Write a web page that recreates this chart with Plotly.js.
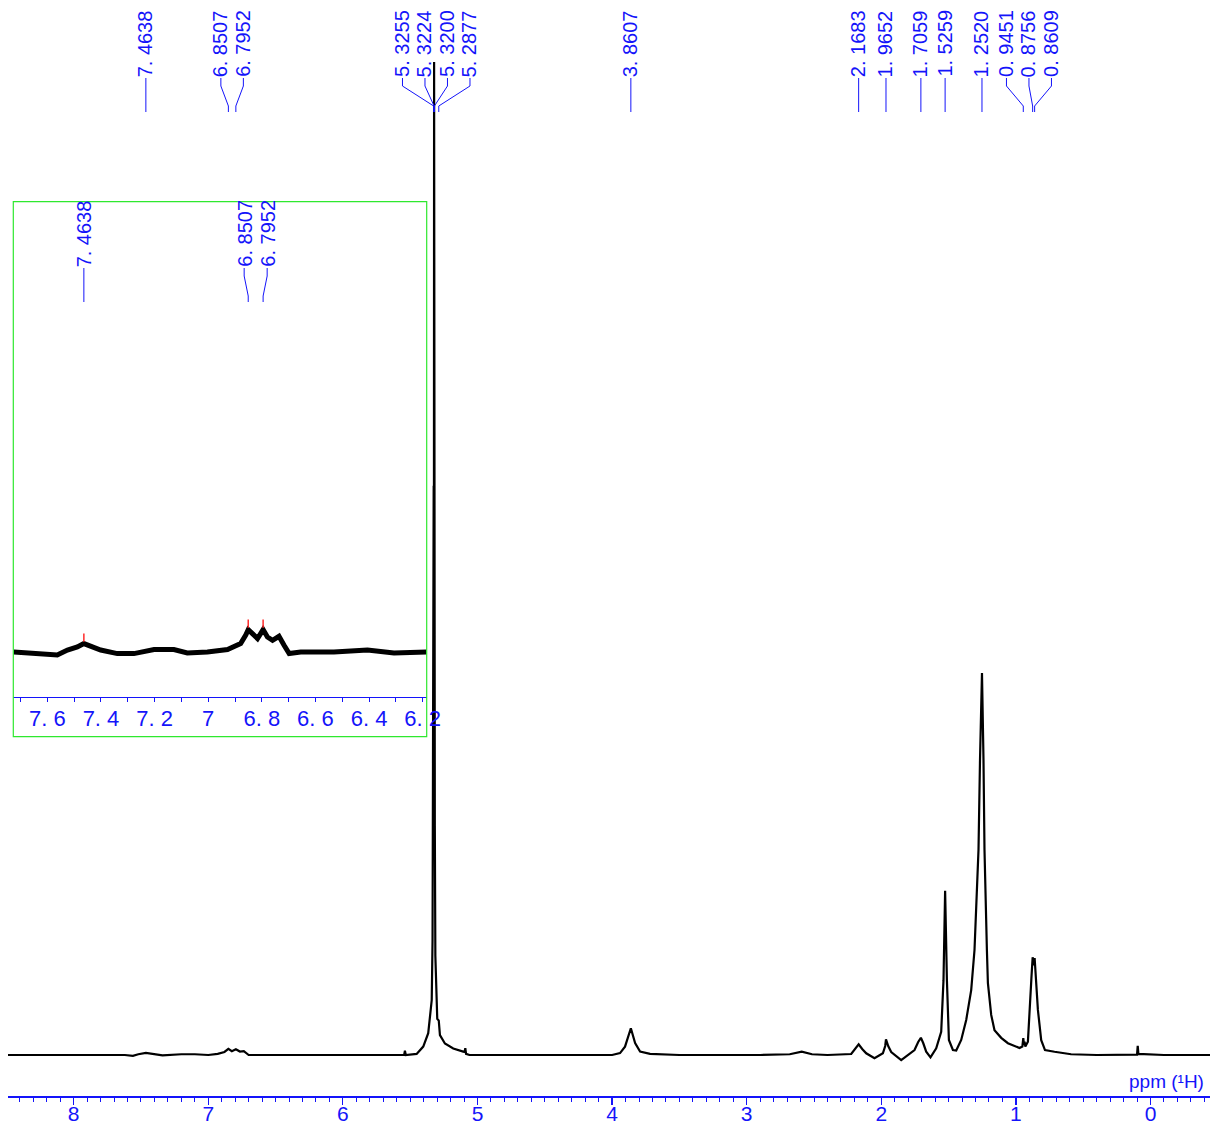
<!DOCTYPE html>
<html>
<head>
<meta charset="utf-8">
<script src="https://cdn.plot.ly/plotly-3.0.1.min.js"></script>
<style>
  html, body { margin: 0; padding: 0; background: #ffffff; }
  #chart { width: 1210px; height: 1126px; }
</style>
</head>
<body>
<div id="chart"></div>
<script>
// 1H NMR spectrum: chemical shift (ppm) and relative intensity (1.2520 ppm signal = 100)
const spectrumPpm = [
  8.49, 7.90, 7.62, 7.56, 7.52, 7.4638, 7.40, 7.34, 7.20, 7.10, 7.00, 6.93, 6.88,
  6.8507, 6.825, 6.7952, 6.765, 6.736, 6.70, 6.60, 6.40, 6.20, 6.00, 5.80, 5.60,
  5.545, 5.539, 5.533, 5.452, 5.403, 5.366, 5.348, 5.340, 5.334, 5.330,
  5.3255, 5.3238, 5.3224, 5.3212, 5.3200, 5.317, 5.313, 5.306, 5.299, 5.2877,
  5.282, 5.279, 5.242, 5.180, 5.106, 5.096, 5.0905, 5.085, 5.06, 4.80, 4.50,
  4.20, 4.00, 3.941, 3.904, 3.8607, 3.829, 3.792, 3.718, 3.50, 3.20, 2.90,
  2.68, 2.591, 2.515, 2.40, 2.2236, 2.1865, 2.1683, 2.1419, 2.1122, 2.0505,
  1.9881, 1.9710, 1.9652, 1.9487, 1.9264, 1.8522, 1.7533, 1.7259, 1.7059,
  1.6887, 1.6664, 1.6345, 1.5921, 1.5550, 1.5379, 1.5259, 1.5126, 1.4978,
  1.4680, 1.4435, 1.4064, 1.3692, 1.3321, 1.3076, 1.2875, 1.2779, 1.2667,
  1.2520, 1.2407, 1.2333, 1.2155, 1.2080, 1.1835, 1.1590, 1.1092, 1.0594,
  0.9733, 0.952, 0.9451, 0.940, 0.9355, 0.930, 0.9108, 0.8990, 0.885, 0.8756,
  0.868, 0.8609, 0.852, 0.8366, 0.8120, 0.784, 0.7132, 0.59, 0.40, 0.20,
  0.100, 0.095, 0.090, -0.10, -0.442
];
const spectrumInt = [
  0, 0, 0, -0.2, 0.2, 0.55, 0.2, -0.1, 0.2, 0.2, 0, 0.3, 0.8,
  1.6, 1.0, 1.5, 0.9, 1.0, 0, 0, 0.1, 0, 0, 0, 0,
  0, 1.1, 0, 0.3, 2.2, 5.7, 10.9, 14.4, 30, 70,
  149, 110, 260, 140, 181, 60, 26, 14, 9.5, 9.0,
  6.5, 5.2, 3.0, 1.7, 0.9, 0.8, 1.8, 0.3, 0, 0, 0,
  0, 0, 0.5, 2.2, 7.0, 3.1, 0.9, 0.3, 0, 0, 0,
  0.2, 0.9, 0.2, 0, 0.26, 2.17, 2.8, 1.57, 0.45, -0.86,
  0.45, 2.36, 4.1, 2.36, 0.79, -1.31, 1.31, 3.40, 4.53,
  3.14, 0.86, -0.60, 1.75, 6.10, 19.6, 43.0, 19.6, 3.93,
  1.31, 1.18, 3.93, 9.16, 17.0, 27.5, 45.8, 53.7, 77.2,
  100, 77.2, 53.7, 27.5, 18.8, 10.5, 6.5, 4.5, 3.1,
  1.83, 2.2, 4.4, 2.6, 3.5, 2.2, 3.5, 12.6, 20, 25.6,
  23.5, 25.4, 20, 11.8, 3.9, 1.3, 0.86, 0.2, 0, 0,
  0.1, 2.4, 0.3, 0, 0
];

// Expanded aromatic region 7.7 - 6.2 ppm (vertically magnified)
const insetPpm = [
  7.725, 7.650, 7.563, 7.525, 7.488, 7.4638, 7.432, 7.401, 7.339, 7.277,
  7.202, 7.128, 7.078, 7.003, 6.928, 6.879, 6.860, 6.8507, 6.835, 6.816,
  6.7952, 6.779, 6.760, 6.736, 6.717, 6.698, 6.655, 6.531, 6.406, 6.307, 6.185
];
const insetInt = [
  0, -1, -3, 2, 5, 8.4, 5, 2, -1.6, -1.6,
  2.4, 2.4, -1, 0, 2.4, 8.4, 17, 22.4, 18.4, 13.4,
  22.4, 15, 11.7, 15.7, 6.7, -1.6, 0, 0, 2, -1, 0
];

// Picked peaks
const peakPpm = [7.4638, 6.8507, 6.7952, 5.3255, 5.3224, 5.3200, 5.2877, 3.8607,
                 2.1683, 1.9652, 1.7059, 1.5259, 1.2520, 0.9451, 0.8756, 0.8609];
const insetPeakPpm = [7.4638, 6.8507, 6.7952];

// Tick labels
const mainTickVals = [8, 7, 6, 5, 4, 3, 2, 1, 0];
const mainTickText = ['8', '7', '6', '5', '4', '3', '2', '1', '0'];
const insetTickVals = [7.6, 7.4, 7.2, 7.0, 6.8, 6.6, 6.4, 6.2];
const insetTickText = ['7. 6', '7. 4', '7. 2', '7', '6. 8', '6. 6', '6. 4', '6. 2'];

// ---- page geometry (pixels) ----
const W = 1210, H = 1126;
const BLUE = 'rgb(20,20,250)';
const GREEN = '#2ee82e';
const NARROW = 'Liberation Sans Narrow, Liberation Sans, Arial, sans-serif';
const SANS = 'Liberation Sans, Arial, sans-serif';

const main = { left: 8, right: 1210, axisY: 1096, top: 0, range: [8.488, -0.442], yRange: [-10.73, 276.2] };
const inset = { left: 13.3, right: 426.7, axisY: 697, top: 201.7, boxBottom: 736.7, range: [7.727, 6.185], yRange: [-45, 450.3] };

const px = x => x / W;
const py = y => 1 - y / H;

function toPixel(ax, ppm) {
  return ax.left + (ax.range[0] - ppm) / (ax.range[0] - ax.range[1]) * (ax.right - ax.left);
}

// Spread crowded labels evenly around the centre of each cluster
function spreadLabels(pixels, gap) {
  const order = pixels.map((p, i) => [p, i]).sort((a, b) => a[0] - b[0]);
  const out = new Array(pixels.length);
  let group = [order[0]];
  const flush = g => {
    const c = (g[0][0] + g[g.length - 1][0]) / 2;
    const start = c - gap * (g.length - 1) / 2;
    g.forEach((e, k) => { out[e[1]] = start + k * gap; });
  };
  for (let i = 1; i < order.length; i++) {
    if (order[i][0] - order[i - 1][0] < gap) group.push(order[i]);
    else { flush(group); group = [order[i]]; }
  }
  flush(group);
  return out;
}

const fmt = v => v.toFixed(4).replace('.', '. ');

const annotations = [];
const shapes = [];

function addPeakLabels(ax, list, textBottom, gap) {
  const pk = list.map(v => toPixel(ax, v));
  const lab = spreadLabels(pk, gap);
  list.forEach((v, i) => {
    annotations.push({
      xref: 'paper', yref: 'paper', x: px(lab[i]), y: py(textBottom),
      xanchor: 'center', yanchor: 'bottom', textangle: -90, showarrow: false,
      borderpad: 0, text: fmt(v),
      font: { family: SANS, size: 20, color: BLUE }
    });
    const p = `M ${px(lab[i])},${py(textBottom)} L ${px(lab[i])},${py(textBottom + 8)} ` +
              `L ${px(pk[i])},${py(textBottom + 28)} L ${px(pk[i])},${py(textBottom + 34)}`;
    shapes.push({ type: 'path', xref: 'paper', yref: 'paper', path: p,
                  line: { color: BLUE, width: 1 } });
  });
}

addPeakLabels(main, peakPpm, 78, 22.5);
addPeakLabels(inset, insetPeakPpm, 268, 23);

// frame of the expanded view
shapes.push({ type: 'rect', xref: 'paper', yref: 'paper',
  x0: px(inset.left), x1: px(inset.right), y0: py(inset.boxBottom), y1: py(inset.top),
  line: { color: GREEN, width: 1.2 }, fillcolor: 'rgba(0,0,0,0)' });

annotations.push({ xref: 'paper', yref: 'paper', x: px(1166), y: py(1081),
  xanchor: 'center', yanchor: 'middle', showarrow: false, text: 'ppm (¹H)',
  font: { family: NARROW, size: 19, color: BLUE } });

// red pick marks above the expanded peaks
const markY = insetPeakPpm.map(v => insetInt[insetPpm.indexOf(v)] + 6);

const traces = [
  { x: spectrumPpm, y: spectrumInt, xaxis: 'x', yaxis: 'y', type: 'scatter', mode: 'lines',
    line: { color: '#000000', width: 2.2 }, hoverinfo: 'skip' },
  { x: insetPpm, y: insetInt, xaxis: 'x2', yaxis: 'y2', type: 'scatter', mode: 'lines',
    line: { color: '#000000', width: 5 }, hoverinfo: 'skip' },
  { x: insetPeakPpm, y: markY, xaxis: 'x2', yaxis: 'y2', type: 'scatter', mode: 'markers',
    marker: { symbol: 'line-ns-open', size: 6, color: '#ff2a2a', line: { color: '#ff2a2a', width: 1.5 } },
    hoverinfo: 'skip' }
];

const layout = {
  width: W, height: H,
  margin: { l: 0, r: 0, t: 0, b: 0, pad: 0 },
  paper_bgcolor: '#ffffff', plot_bgcolor: '#ffffff',
  showlegend: false,
  xaxis: {
    domain: [px(main.left), px(main.right)], anchor: 'y', range: main.range, autorange: false,
    showgrid: false, zeroline: false, showline: true, linecolor: BLUE, linewidth: 1.5,
    ticks: 'outside', ticklen: 7, tickwidth: 1.2, tickcolor: BLUE,
    tickvals: mainTickVals, ticktext: mainTickText, ticklabelstandoff: -9,
    tickfont: { family: NARROW, size: 21, color: BLUE },
    minor: { dtick: 0.1, tick0: 0, ticks: 'outside', ticklen: 4, tickwidth: 1, tickcolor: BLUE, showgrid: false },
    fixedrange: true
  },
  yaxis: {
    domain: [py(main.axisY), py(main.top)], anchor: 'x', range: main.yRange, autorange: false,
    visible: false, fixedrange: true
  },
  xaxis2: {
    domain: [px(inset.left), px(inset.right)], anchor: 'y2', range: inset.range, autorange: false,
    showgrid: false, zeroline: false, showline: true, linecolor: BLUE, linewidth: 1.2,
    ticks: 'outside', ticklen: 4, tickwidth: 1, tickcolor: BLUE,
    tickvals: insetTickVals, ticktext: insetTickText, ticklabelstandoff: -3,
    tickfont: { family: SANS, size: 22, color: BLUE },
    minor: { dtick: 0.1, tick0: 0, ticks: 'outside', ticklen: 4, tickwidth: 1, tickcolor: BLUE, showgrid: false },
    fixedrange: true
  },
  yaxis2: {
    domain: [py(inset.axisY), py(inset.top)], anchor: 'x2', range: inset.yRange, autorange: false,
    visible: false, fixedrange: true
  },
  shapes: shapes,
  annotations: annotations
};

Plotly.newPlot('chart', traces, layout, { staticPlot: true, displayModeBar: false });
</script>
</body>
</html>
